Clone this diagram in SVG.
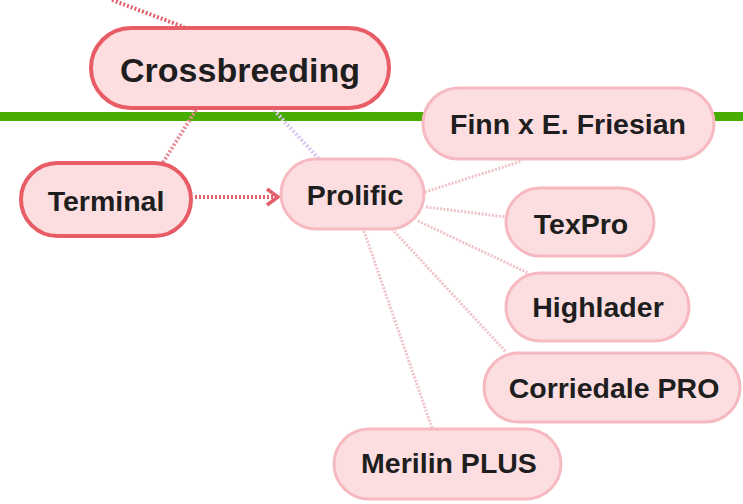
<svg xmlns="http://www.w3.org/2000/svg" width="743" height="504" viewBox="0 0 743 504">
<style>
.node rect{fill:#fcdde0;stroke:#f6b9bf;stroke-width:3}
.main rect{fill:#fcdde0;stroke:#e85c66;stroke-width:4}
text{font-family:"Liberation Sans",Arial,sans-serif;font-weight:bold;fill:#1e1e1e;text-anchor:middle;font-size:28.5px}
.c line{fill:none}
.red{stroke:#e2606c;stroke-width:4;stroke-dasharray:2 2}
.pinkred{stroke:#e88a94;stroke-width:4;stroke-dasharray:2 2}
.pink{stroke:#f0c3c8;stroke-width:3;stroke-dasharray:2 1.5}
.lav{stroke:#dcc6f0;stroke-width:4;stroke-dasharray:2 2}
</style>
<defs>
<marker id="arr" markerWidth="16" markerHeight="20" refX="13" refY="10" orient="auto" markerUnits="userSpaceOnUse">
<path d="M2,2 L13,10 L2,18" fill="none" stroke="#e2606c" stroke-width="3.5"/>
</marker>
</defs>
<rect x="0" y="112" width="743" height="9" fill="#46ac00"/>
<g class="c">
<line class="red" x1="112" y1="0" x2="184" y2="27"/>
<line class="pinkred" x1="196" y1="110" x2="162" y2="164"/>
<line class="lav" x1="274" y1="110" x2="320" y2="160"/>
<line class="red" x1="195" y1="197" x2="278" y2="197" marker-end="url(#arr)"/>
<line class="pink" x1="425" y1="192" x2="522" y2="161"/>
<line class="pink" x1="426" y1="207" x2="506" y2="217"/>
<line class="pink" x1="418" y1="221" x2="528" y2="273"/>
<line class="pink" x1="392" y1="229" x2="506" y2="352"/>
<line class="pink" x1="364" y1="231" x2="432" y2="428"/>
</g>
<g id="crossbreeding" class="main"><rect x="91" y="28" width="298" height="80" rx="40"/><text x="240" y="82" style="font-size:34px">Crossbreeding</text></g>
<g id="terminal" class="main"><rect x="21" y="163" width="170" height="73" rx="36.5"/><text x="106" y="211">Terminal</text></g>
<g id="prolific" class="node"><rect x="281" y="159" width="143" height="70" rx="35"/><text x="355" y="205">Prolific</text></g>
<g id="finn" class="node"><rect x="423" y="88" width="291" height="71" rx="35.5"/><text x="568" y="134">Finn x E. Friesian</text></g>
<g id="texpro" class="node"><rect x="506" y="188" width="148" height="68" rx="34"/><text x="581" y="234">TexPro</text></g>
<g id="highlader" class="node"><rect x="506" y="273" width="183" height="68" rx="34"/><text x="598" y="317">Highlader</text></g>
<g id="corriedale" class="node"><rect x="484" y="353" width="256" height="69" rx="34.5"/><text x="614" y="398">Corriedale PRO</text></g>
<g id="merilin" class="node"><rect x="334" y="429" width="227" height="70" rx="35"/><text x="449" y="473">Merilin PLUS</text></g>
</svg>
